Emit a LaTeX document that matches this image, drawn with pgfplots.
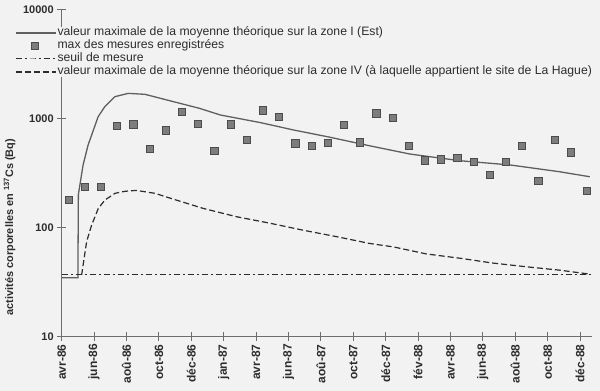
\documentclass[border=0pt]{standalone}
\usepackage{fontspec}
\setmainfont{Liberation Sans}
\usepackage{pgfplots}
\pgfplotsset{compat=1.18}
\definecolor{paper}{RGB}{242,242,242}
\definecolor{ink}{RGB}{45,45,45}
\definecolor{curve}{RGB}{95,95,95}
\definecolor{mk}{RGB}{125,125,125}
\definecolor{axc}{RGB}{110,110,110}
\begin{document}
\begin{tikzpicture}[x=1pt,y=1pt]
\fill[paper] (-61.7,-54.7) rectangle (538.3,336.3);
\begin{axis}[
  at={(0pt,0pt)}, anchor=south west,
  scale only axis, width=530pt, height=327pt,
  xmin=0, xmax=32.72,
  ymode=log, ymin=10, ymax=10000,
  axis lines=left,
  axis line style={-, draw=axc, line width=0.8pt},
  tick align=center, major tick length=9pt,
  tick style={draw=axc, line width=0.8pt},
  yminorticks=false, xminorticks=false,
  xtick={0,2,...,32},
  xticklabels={avr-86,jun-86,aoû-86,oct-86,déc-86,jan-87,avr-87,jun-87,aoû-87,oct-87,déc-87,fév-88,avr-88,jun-88,aoû-88,oct-88,déc-88},
  xticklabel style={rotate=90, anchor=east, font=\fontsize{12}{14}\selectfont\bfseries, text=ink},
  ytick={10,100,1000,10000},
  yticklabels={10,100,1000,10000},
  yticklabel style={font=\fontsize{11}{13}\selectfont\bfseries, text=ink},
  ylabel={activités corporelles en \textsuperscript{137}Cs (Bq)},
  ylabel style={at={(axis description cs:-0.0985,0.334)}, anchor=center, font=\fontsize{10.9}{13}\selectfont\bfseries, text=ink},
  legend style={at={(axis description cs:-0.088,0.945)}, anchor=north west,
    draw=none, fill=paper, inner sep=0pt, row sep=2pt,
    font=\fontsize{12.2}{13}\selectfont, text=ink,
    nodes={inner xsep=1pt, inner ysep=0pt, text height=8.5pt, text depth=2.5pt}},
  legend cell align=left,
  legend image code/.code={\draw[mark repeat=2,mark phase=2,#1] plot coordinates {(0pt,0pt) (19pt,0pt) (40pt,0pt)};},
]
\addplot[curve, line width=1.3pt] coordinates {
(0,34.5) (1.0,34.5) (1.03,200) (1.32,373) (1.63,569) (2.25,1034) (2.66,1277)
(3.28,1578) (4.1,1693) (5.14,1660) (6.5,1472) (8.5,1235) (9.8,1072) (12.3,911)
(14.3,782) (16.4,678) (19.0,560) (21.5,470) (24.6,408) (27.7,373) (30.7,324) (32.6,291)
};
\addlegendentry{valeur maximale de la moyenne théorique sur la zone I (Est)}
\addplot[only marks, mark=square*, mark size=3.6pt, mark options={fill=mk, draw=gray!60!black, line width=0.6pt}] coordinates {
(0.42,178) (1.42,234) (2.42,234) (3.42,850) (4.42,881) (5.42,526) (6.42,776)
(7.42,1142) (8.42,892) (9.42,501) (10.42,881) (11.42,632) (12.42,1184) (13.42,1034)
(14.42,590) (15.42,557) (16.42,597) (17.42,868) (18.42,603) (19.42,1111) (20.42,1006)
(21.42,557) (22.42,412) (23.42,421) (24.42,436) (25.42,400) (26.42,304) (27.42,400)
(28.42,557) (29.42,268) (30.42,637) (31.42,488) (32.42,215)
};
\addlegendentry{max des mesures enregistrées}
\addplot[ink, line width=1pt, dash pattern=on 6pt off 3pt on 2pt off 3pt] coordinates {(0,37) (32.65,37)};
\addlegendentry{seuil de mesure}
\addplot[ink, line width=1.2pt, dash pattern=on 6pt off 3pt] coordinates {
(1.23,36.5) (1.54,74) (1.85,105) (2.26,149) (2.67,178) (3.29,205) (3.91,214)
(4.6,218) (5.76,205) (6.7,185) (8.74,149) (10.8,125) (12.86,109) (14.91,94)
(16.98,82) (19.03,71) (20.5,66) (22.5,57) (24.6,52) (26.6,47) (28.7,43.4)
(30.7,40.5) (32.6,37.2)
};
\addlegendentry{valeur maximale de la moyenne théorique sur la zone IV (à laquelle appartient le site de La Hague)}
\end{axis}
\pgfresetboundingbox
\path (-61.7,-54.7) rectangle (538.3,336.3);
\end{tikzpicture}
\end{document}
